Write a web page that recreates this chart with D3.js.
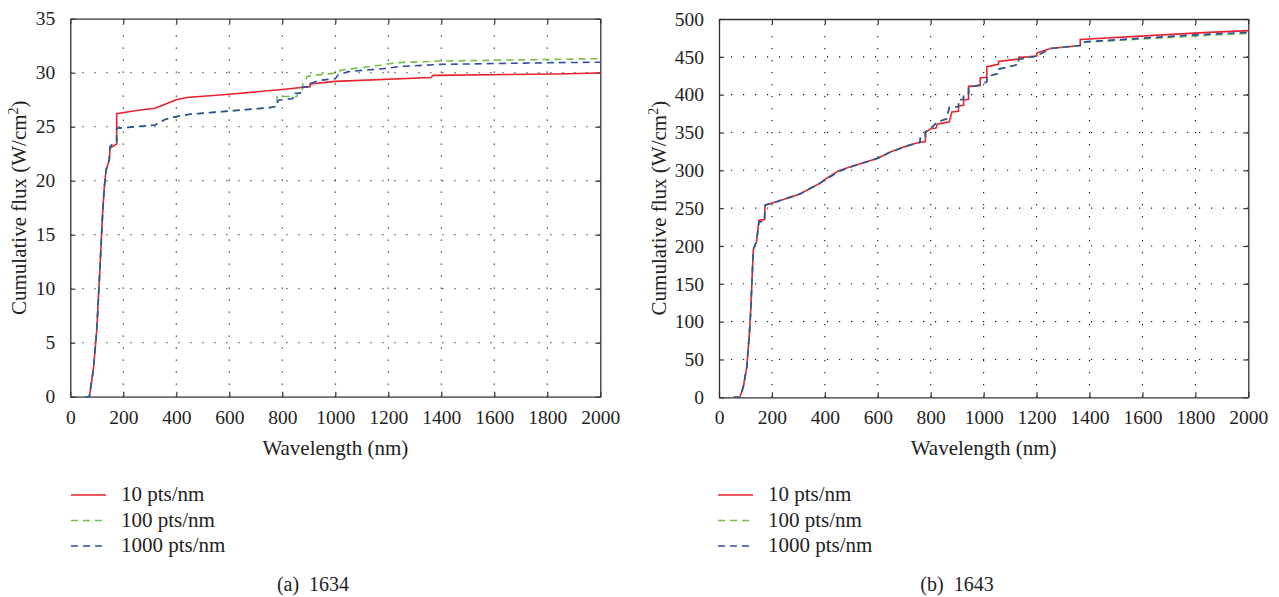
<!DOCTYPE html>
<html lang="en">

<head>
    <meta charset="UTF-8">
    <script src="https://d3js.org/d3.v7.min.js"></script>
    <style>
        body { margin: 0; background: #fff; }
    </style>
    <title>cumulative flux</title>
</head>

<body>
    <script>

        // ---- data ----
        var xTicks = [0, 200, 400, 600, 800, 1000, 1200, 1400, 1600, 1800, 2000]
        var yTicksA = [0, 5, 10, 15, 20, 25, 30, 35]
        var yTicksB = [0, 50, 100, 150, 200, 250, 300, 350, 400, 450, 500]
        var seriesNames = ["10 pts/nm", "100 pts/nm", "1000 pts/nm"]
        var captions = ["(a)  1634", "(b)  1643"]

        // panel (a) 1634
        var a10_nm = [55, 72, 87, 100, 112, 122, 128, 135, 147, 150, 162, 175, 175, 250, 320, 360, 400, 440, 600, 800, 880, 905, 905, 1000, 1360, 1370, 1830, 2000]
        var a10_flux = [0, 0, 2.5, 6.2, 12.0, 17.0, 19.3, 21.0, 21.9, 23.0, 23.2, 23.4, 26.2, 26.5, 26.7, 27.1, 27.5, 27.7, 28.0, 28.45, 28.65, 28.7, 28.95, 29.2, 29.55, 29.75, 29.88, 29.97]

        var a100_nm = [55, 72, 87, 100, 112, 122, 128, 135, 147, 150, 162, 175, 175, 250, 320, 360, 400, 450, 600, 750, 780, 780, 855, 858, 875, 878, 890, 892, 930, 1000, 1024, 1074, 1131, 1232, 1395, 1823, 2000]
        var a100_flux = [0, 0, 2.5, 6.2, 12.0, 17.0, 19.3, 21.0, 21.9, 23.15, 23.46, 23.6, 24.85, 25.0, 25.16, 25.7, 25.93, 26.15, 26.45, 26.76, 26.9, 27.8, 27.8, 28.1, 28.2, 29.0, 29.4, 29.64, 29.8, 29.95, 30.25, 30.4, 30.56, 30.93, 31.08, 31.23, 31.3]

        var a1000_nm = [55, 72, 87, 100, 112, 122, 128, 135, 147, 150, 162, 175, 175, 250, 320, 360, 400, 450, 600, 750, 780, 785, 840, 842, 868, 870, 905, 905, 942, 1000, 1011, 1049, 1118, 1194, 1238, 1395, 1823, 2000]
        var a1000_flux = [0, 0, 2.5, 6.2, 12.0, 17.0, 19.3, 21.0, 21.9, 23.15, 23.46, 23.6, 24.85, 25.0, 25.16, 25.7, 25.93, 26.15, 26.45, 26.76, 26.9, 27.45, 27.6, 28.1, 28.1, 28.64, 28.7, 29.0, 29.3, 29.45, 29.8, 30.1, 30.25, 30.4, 30.56, 30.77, 30.93, 30.97]

        // panel (b) 1643
        var b10_nm = [55, 79, 92, 105, 115, 120, 126, 130, 142, 151, 172, 174, 218, 306, 344, 382, 400, 450, 500, 600, 650, 700, 750, 780, 780, 800, 820, 825, 870, 880, 905, 905, 924, 924, 943, 943, 987, 987, 1012, 1012, 1056, 1056, 1132, 1132, 1201, 1201, 1251, 1365, 1365, 1830, 2000]
        var b10_flux = [0, 0, 14, 40, 85, 115, 166, 196, 206, 234, 235, 254, 258.6, 268.7, 276, 283, 288, 299, 305, 316, 324.6, 331, 336.5, 338, 350, 355, 356, 361, 364, 377, 378, 385, 386, 393, 394, 411, 412, 422, 423, 437, 440, 444, 447, 449, 451, 455, 461, 465, 473, 482, 484.6]

        var b100_nm = [55, 79, 92, 105, 115, 120, 126, 130, 142, 151, 172, 174, 218, 306, 344, 382, 400, 450, 500, 600, 650, 700, 750, 760, 760, 780, 780, 800, 825, 860, 870, 905, 905, 924, 924, 943, 943, 987, 1000, 1012, 1012, 1056, 1056, 1132, 1132, 1201, 1251, 1365, 1370, 1800, 2000]
        var b100_flux = [0, 0, 14, 40, 85, 115, 166, 196, 206, 232, 232, 254, 258.6, 268.7, 276, 283, 287, 298, 304.8, 316, 324.6, 331, 336.5, 337, 342, 343, 351, 355, 364, 368, 383, 384, 393, 394, 400, 401, 410, 413, 415, 417, 424, 428, 434, 440, 447, 451, 461, 465, 469, 477.5, 481]

        var b1000_nm = [55, 79, 92, 105, 115, 120, 126, 130, 142, 151, 172, 174, 218, 306, 344, 382, 400, 450, 500, 600, 650, 700, 750, 760, 760, 780, 780, 800, 825, 860, 870, 905, 905, 924, 924, 943, 943, 987, 1000, 1012, 1012, 1056, 1056, 1132, 1132, 1201, 1251, 1365, 1370, 1800, 2000]
        var b1000_flux = [0, 0, 14, 40, 85, 115, 166, 196, 206, 232, 232, 254, 258.6, 268.7, 276, 283, 287, 298, 304.8, 316, 324.6, 331, 336.5, 337, 342, 343, 351, 355.5, 364, 368, 383, 384, 393, 394, 399.6, 401, 409.7, 412.8, 415, 417, 423.7, 428, 433.5, 440, 446.7, 451, 461, 465, 469.6, 479, 482.4]

        var colors = ["#e8212b", "#72c146", "#2f4ea6"]
        var dashes = [null, "7,5", "7,5"]
        var serif = "Liberation Serif"

        function zipSeries(nm, flux) {
            return nm.map(function (d, i) { return [d, flux[i]] })
        }

        var svg = d3.select("body").append("svg")
            .attr("width", 1279)
            .attr("height", 597)
            .style("font-family", serif)

        var panels = [
            {
                left: 70.3, right: 600.3, top: 18.7, bottom: 396.7,
                yMax: 35, yTicks: yTicksA, labelX: 19, legendX: 71, caption: captions[0], captionX: 313,
                series: [zipSeries(a10_nm, a10_flux), zipSeries(a100_nm, a100_flux), zipSeries(a1000_nm, a1000_flux)]
            },
            {
                left: 719, right: 1248.3, top: 19, bottom: 397.3,
                yMax: 500, yTicks: yTicksB, labelX: 659, legendX: 718, caption: captions[1], captionX: 957,
                series: [zipSeries(b10_nm, b10_flux), zipSeries(b100_nm, b100_flux), zipSeries(b1000_nm, b1000_flux)]
            }
        ]

        panels.forEach(function (p) {
            var x = d3.scaleLinear().domain([0, 2000]).range([p.left, p.right])
            var y = d3.scaleLinear().domain([0, p.yMax]).range([p.bottom, p.top])
            var g = svg.append("g")

            // dotted grid
            g.selectAll(".gx")
                .data(xTicks.slice(1, -1))
                .join("line")
                .attr("x1", function (d) { return x(d) })
                .attr("x2", function (d) { return x(d) })
                .attr("y1", p.bottom)
                .attr("y2", p.top)
                .attr("stroke", "#111")
                .attr("stroke-width", 1.1)
                .attr("stroke-dasharray", "1.2,10.8")
            g.selectAll(".gy")
                .data(p.yTicks.slice(1, -1))
                .join("line")
                .attr("x1", p.left)
                .attr("x2", p.right)
                .attr("y1", function (d) { return y(d) })
                .attr("y2", function (d) { return y(d) })
                .attr("stroke", "#111")
                .attr("stroke-width", 1.1)
                .attr("stroke-dasharray", "1.2,10.8")

            // axes with inward ticks on all four sides
            g.append("g")
                .attr("transform", "translate(0," + p.bottom + ")")
                .call(d3.axisBottom(x).tickValues(xTicks).tickFormat(d3.format("d")).tickSizeInner(-5).tickSizeOuter(0).tickPadding(13))
            g.append("g")
                .attr("transform", "translate(0," + p.top + ")")
                .call(d3.axisTop(x).tickValues(xTicks).tickSizeInner(-5).tickSizeOuter(0).tickFormat(""))
            g.append("g")
                .attr("transform", "translate(" + p.left + ",0)")
                .call(d3.axisLeft(y).tickValues(p.yTicks).tickFormat(d3.format("d")).tickSizeInner(-5).tickSizeOuter(0).tickPadding(15))
            g.append("g")
                .attr("transform", "translate(" + p.right + ",0)")
                .call(d3.axisRight(y).tickValues(p.yTicks).tickSizeInner(-5).tickSizeOuter(0).tickFormat(""))

            g.selectAll(".domain").attr("stroke", "#333").attr("stroke-width", 1.3)
            g.selectAll(".tick line").attr("stroke", "#333").attr("stroke-width", 1.2)
            g.selectAll("g").attr("font-family", null).attr("font-size", 19.5)
            g.selectAll(".tick text").attr("fill", "#222")

            // lines
            var line = d3.line()
                .x(function (d) { return x(d[0]) })
                .y(function (d) { return y(d[1]) })
            p.series.forEach(function (s, i) {
                g.append("path")
                    .datum(s)
                    .attr("d", line)
                    .attr("fill", "none")
                    .attr("stroke", colors[i])
                    .attr("stroke-width", 1.6)
                    .attr("stroke-dasharray", dashes[i])
            })

            // axis titles
            g.append("text")
                .attr("x", (p.left + p.right) / 2)
                .attr("y", 455)
                .attr("text-anchor", "middle")
                .attr("font-size", 21)
                .attr("fill", "#222")
                .text("Wavelength (nm)")

            var yl = g.append("text")
                .attr("transform", "translate(" + (p.labelX + 7) + "," + ((p.top + p.bottom) / 2) + ") rotate(-90)")
                .attr("text-anchor", "middle")
                .attr("font-size", 21)
                .attr("fill", "#222")
            yl.append("tspan").text("Cumulative flux (W/cm")
            yl.append("tspan").attr("dy", -8).attr("font-size", 14).text("2")
            yl.append("tspan").attr("dy", 8).text(")")

            // legend
            seriesNames.forEach(function (name, i) {
                var ly = 495 + i * 25.5
                g.append("line")
                    .attr("x1", p.legendX)
                    .attr("x2", p.legendX + 35)
                    .attr("y1", ly)
                    .attr("y2", ly)
                    .attr("stroke", colors[i])
                    .attr("stroke-width", 1.4)
                    .attr("stroke-dasharray", dashes[i])
                g.append("text")
                    .attr("x", p.legendX + 50)
                    .attr("y", ly + 6)
                    .attr("font-size", 21)
                    .attr("fill", "#222")
                    .text(name)
            })

            // caption
            g.append("text")
                .attr("x", p.captionX)
                .attr("y", 591)
                .attr("text-anchor", "middle")
                .attr("font-size", 20)
                .attr("fill", "#222")
                .style("white-space", "pre")
                .text(p.caption)
        })

    </script>
</body>

</html>
